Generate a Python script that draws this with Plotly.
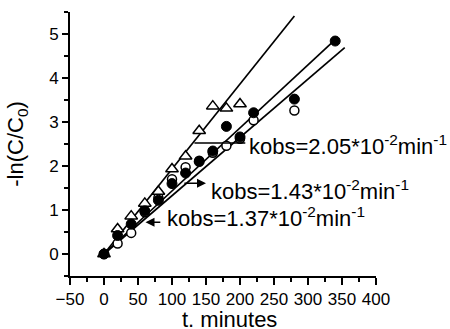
import plotly.graph_objects as go

# ---- data ----
t_tri = [0, 20, 40, 60, 80, 100, 120, 140, 160, 180, 200]
v_tri = [0, 0.57, 0.86, 1.15, 1.42, 1.93, 2.22, 2.80, 3.36, 3.31, 3.41]

t_fill = [0, 20, 40, 60, 80, 100, 120, 140, 160, 180, 200, 220, 280, 340]
v_fill = [0, 0.42, 0.68, 0.98, 1.22, 1.60, 1.84, 2.10, 2.34, 2.90, 2.66, 3.21, 3.52, 4.84]

t_open = [0, 20, 40, 60, 80, 100, 120, 140, 160, 180, 200, 220, 280]
v_open = [0, 0.24, 0.48, 0.95, 1.28, 1.70, 1.97, 2.12, 2.30, 2.46, 2.62, 3.04, 3.26]

# fitted lines (start, end)
fit_tri_t = [0, 280]
fit_tri_v = [0, 5.41]
fit_fill_t = [0, 342]
fit_fill_v = [0, 4.90]
fit_open_t = [0, 354]
fit_open_v = [0, 4.69]

labels = ["kobs=2.05*10<sup>-2</sup>min<sup>-1</sup>",
          "kobs=1.43*10<sup>-2</sup>min<sup>-1</sup>",
          "kobs=1.37*10<sup>-2</sup>min<sup>-1</sup>"]
label_t = [211, 154, 90]
label_v = [2.47, 1.45, 0.84]

x_ticks = [-50, 0, 50, 100, 150, 200, 250, 300, 350, 400]
y_ticks = [0, 1, 2, 3, 4, 5]
x_title = "t. minutes"
y_title = "-ln(C/C<sub>0</sub>)"

FONT = "Liberation Sans, Arial, sans-serif"

fig = go.Figure()
for tt, vv in [(fit_tri_t, fit_tri_v), (fit_fill_t, fit_fill_v), (fit_open_t, fit_open_v)]:
    fig.add_trace(go.Scatter(x=tt, y=vv, mode="lines",
                             line=dict(color="black", width=1.7), showlegend=False))

fig.add_trace(go.Scatter(x=t_open, y=v_open, mode="markers", showlegend=False,
                         marker=dict(symbol="circle", size=9, color="white",
                                     line=dict(color="black", width=1.5))))
fig.add_trace(go.Scatter(x=t_tri, y=v_tri, mode="markers", showlegend=False,
                         marker=dict(symbol="triangle-up", size=11, color="white",
                                     line=dict(color="black", width=1.5))))
fig.add_trace(go.Scatter(x=t_fill, y=v_fill, mode="markers", showlegend=False,
                         marker=dict(symbol="circle", size=10, color="black",
                                     line=dict(color="black", width=1))))

for txt, tx, vy in zip(labels, label_t, label_v):
    fig.add_annotation(x=tx, y=vy, xref="x", yref="y", text=txt, showarrow=False,
                       xanchor="left", yanchor="middle",
                       font=dict(family=FONT, size=22, color="black"))

# pointer lines
arrow_head_t = [133, 150, 61]
arrow_tail_t = [210, 116, 85]
arrow_v = [2.52, 1.61, 0.72]
arrow_heads = [0, 2, 2]
for h, tl, vv, ah in zip(arrow_head_t, arrow_tail_t, arrow_v, arrow_heads):
    fig.add_annotation(x=h, y=vv, ax=tl, ay=vv, xref="x", yref="y", axref="x", ayref="y",
                       text="", showarrow=True, arrowhead=ah, arrowsize=1.2,
                       arrowwidth=1.5, arrowcolor="black", standoff=0, startstandoff=0)

# axis title of x drawn as paper annotation (fixed margins)
fig.add_annotation(x=0.52, y=0, xref="paper", yref="paper", text=x_title, showarrow=False,
                   xanchor="center", yanchor="middle", yshift=-43,
                   font=dict(family=FONT, size=22, color="black"))

axis_common = dict(showgrid=False, zeroline=False, showline=True, linecolor="black",
                   linewidth=2, ticks="outside", tickcolor="black", tickwidth=2,
                   automargin=False,
                   tickfont=dict(family=FONT, size=17, color="black"))

fig.update_xaxes(range=[-50, 400], tickvals=x_ticks, ticklen=7, ticklabelstandoff=0,
                 minor=dict(ticks="outside", ticklen=4, tickwidth=1.5, tickcolor="black", dtick=25, tick0=0),
                 **axis_common)
fig.update_yaxes(range=[-0.5, 5.5], tickvals=y_ticks, ticklen=6,
                 minor=dict(ticks="outside", ticklen=4, tickwidth=1.5, tickcolor="black", dtick=0.5, tick0=0),
                 title=dict(text=y_title, font=dict(family=FONT, size=22, color="black"), standoff=19),
                 **axis_common)

fig.update_layout(width=450, height=329, margin=dict(l=70, r=74, t=12, b=53),
                  paper_bgcolor="white", plot_bgcolor="white", showlegend=False)

fig.write_html("out.html")
